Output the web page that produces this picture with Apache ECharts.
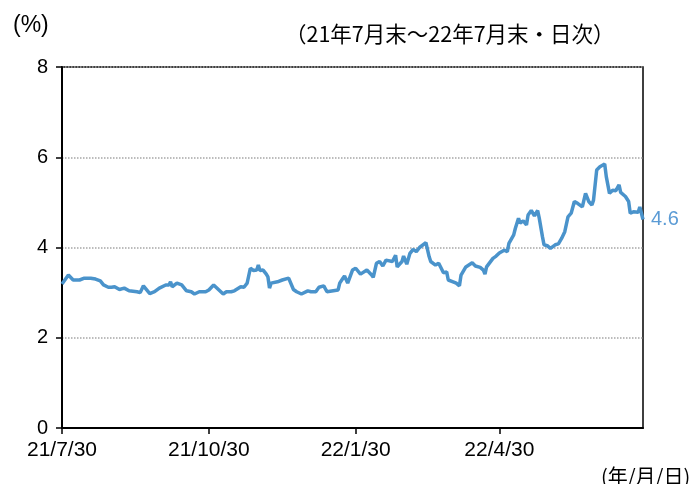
<!DOCTYPE html>
<html>
<head>
    <meta charset="utf-8">
    <title>ECharts</title>
    <script src="https://cdn.jsdelivr.net/npm/echarts@6/dist/echarts.min.js"></script>
    <style>
      html, body { margin: 0; padding: 0; background: #fff; }
    </style>
</head>
<body>
    <div id="main" style="width: 695px;height:484px;"></div>
    <script type="text/javascript">
        // 日数（21/7/30 からの経過日）と値（%）
        var days = [0, 4, 7, 11, 14, 18, 19, 21, 24, 26, 29, 31, 33, 36, 39, 42, 47, 49, 51, 55, 58,
          61, 65, 67, 68, 69, 72, 73, 75, 78, 81, 83, 86, 90, 92, 95, 98, 101, 103, 106, 108,
          112, 114, 116, 117, 118, 120, 122, 123, 124, 126, 128, 129, 130, 131, 135, 138, 139,
          142, 143, 145, 147, 150, 151, 154, 156, 159, 161, 164, 166, 167, 173, 174, 176, 177,
          179, 182, 184, 187, 191, 194, 195, 197, 199, 201, 203, 207, 208, 209, 210, 213, 214,
          216, 218, 220, 222, 224, 228, 230, 231, 234, 236, 237, 239, 241, 242, 243, 245, 247,
          249, 250, 253, 257, 259, 262, 264, 265, 266, 270, 272, 274, 277, 279, 280, 283, 284,
          286, 287, 289, 291, 292, 294, 295, 296, 298, 299, 301, 302, 304, 306, 309, 311, 313,
          315, 317, 319, 320, 321, 323, 326, 328, 330, 332, 333, 335, 337, 340, 341, 343, 345,
          347, 349, 350, 353, 355, 356, 358, 361, 362, 363, 364];
        var values = [3.19, 3.39, 3.28, 3.28, 3.32, 3.32, 3.35, 3.30, 3.26, 3.17, 3.12, 3.12, 3.13, 3.07, 3.10, 3.04, 3.02, 3.00, 3.15, 2.98, 3.02,
          3.10, 3.17, 3.17, 3.24, 3.13, 3.21, 3.23, 3.17, 3.04, 3.02, 2.97, 3.02, 3.02, 3.06, 3.17, 3.07, 2.97, 3.02, 3.02, 3.04,
          3.13, 3.12, 3.21, 3.24, 3.54, 3.49, 3.50, 3.61, 3.49, 3.50, 3.41, 3.35, 3.10, 3.21, 3.24, 3.28, 3.24,
          3.32, 3.35, 3.07, 3.02, 2.97, 2.95, 3.04, 3.02, 3.02, 3.12, 3.15, 3.02, 3.06, 3.06, 3.21, 3.32, 3.37,
          3.21, 3.50, 3.54, 3.41, 3.50, 3.39, 3.34, 3.65, 3.69, 3.59, 3.72, 3.69, 3.66, 3.83, 3.57, 3.69, 3.81,
          3.63, 3.87, 3.96, 3.91, 4.00, 4.11, 3.80, 3.69, 3.61, 3.65, 3.63, 3.44, 3.46, 3.28, 3.32, 3.24, 3.21,
          3.15, 3.39, 3.57, 3.66, 3.59, 3.56, 3.50, 3.41, 3.57, 3.76, 3.81, 3.88, 3.94, 3.91, 4.09, 4.28, 4.42,
          4.65, 4.54, 4.59, 4.50, 4.72, 4.82, 4.79, 4.70, 4.82, 4.65, 4.24, 4.06, 4.04, 3.98, 4.06, 4.08, 4.20,
          4.35, 4.68, 4.76, 4.72, 5.02, 4.98, 4.90, 5.20, 5.02, 4.94, 5.05, 5.72, 5.79, 5.85, 5.57, 5.20, 5.27,
          5.26, 5.39, 5.22, 5.13, 5.02, 4.76, 4.79, 4.78, 4.90, 4.87, 4.62];
        var tickDays = [0, 92, 184, 274];
        var tickLabels = ['21/7/30', '21/10/30', '22/1/30', '22/4/30'];

        var myChart = echarts.init(document.getElementById('main'));
        var seriesData = days.map(function(d, i) {
          return [d, values[i]];
        });

        var option = {
            animation: false,
            textStyle: { fontFamily: 'Liberation Sans, Arial, sans-serif' },
            title: [{
                text: '(%)',
                left: 8, top: 9,
                textStyle: { fontSize: 23, fontWeight: 'normal', color: '#000' }
            }, {
                text: '（21年7月末～22年7月末・日次）',
                left: 280, top: 18,
                textStyle: { fontSize: 21.5, fontWeight: 'normal', color: '#000', fontFamily: 'Noto Sans CJK JP' }
            }, {
                text: '(年/月/日)',
                left: 596, top: 461,
                textStyle: { fontSize: 20, fontWeight: 'normal', color: '#000', fontFamily: 'Noto Sans CJK JP' }
            }],
            grid: {
                left: 62, right: 52, top: 67, bottom: 56,
                show: true, borderColor: '#000', borderWidth: 1.5
            },
            xAxis: {
                type: 'value',
                min: 0, max: 364,
                axisLine: { lineStyle: { color: '#000', width: 2 } },
                axisTick: { show: true, customValues: tickDays, length: 6, lineStyle: { color: '#000', width: 1.5 } },
                axisLabel: {
                  customValues: tickDays,
                  color: '#000', fontSize: 21, margin: 12,
                  formatter: function(v) {
                    var i = tickDays.indexOf(v);
                    return i >= 0 ? tickLabels[i] : '';
                  }
                },
                splitLine: { show: false }
            },
            yAxis: {
                type: 'value',
                min: 0, max: 8, interval: 2,
                axisLine: { show: true, lineStyle: { color: '#000', width: 2 } },
                axisTick: { show: true, length: 6, lineStyle: { color: '#000', width: 1.5 } },
                axisLabel: { color: '#000', fontSize: 20, margin: 14 },
                splitLine: { lineStyle: { color: '#a6a6a6', type: 'dotted', width: 1.5 } }
            },
            series: [{
                type: 'line',
                data: seriesData,
                showSymbol: false,
                lineStyle: { color: '#4a93cb', width: 3.5 },
                itemStyle: { color: '#4a93cb' },
                endLabel: {
                  show: true,
                  color: '#5b9bd5',
                  fontSize: 20,
                  distance: 8,
                  formatter: function(p) { return p.value[1].toFixed(1); }
                }
            }]
        };

        myChart.setOption(option);
    </script>
</body>
</html>
